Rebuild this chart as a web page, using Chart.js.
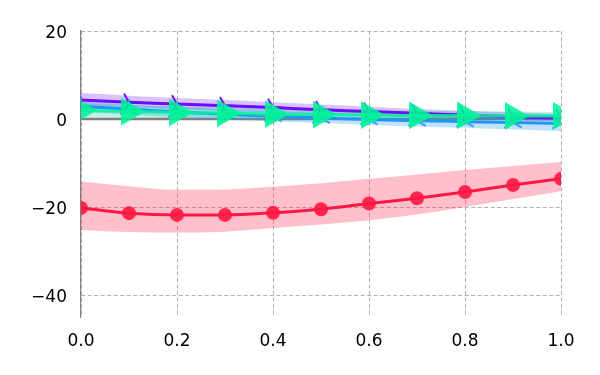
<!DOCTYPE html>
<html>
<head>
<meta charset="utf-8">
<script src="https://cdn.jsdelivr.net/npm/chart.js@4"></script>
<style>
html,body{margin:0;padding:0;background:#fff;}
#wrap{width:600px;height:375px;}
</style>
</head>
<body>
<div id="wrap"><canvas id="c" width="600" height="375"></canvas></div>
<script>
const xs = [0, 0.1, 0.2, 0.3, 0.4, 0.5, 0.6, 0.7, 0.8, 0.9, 1.0];
const xTicks = [0, 0.2, 0.4, 0.6, 0.8, 1.0];
const yTicks = [-40, -20, 0, 20];

const red      = [-20.2, -21.4, -21.8, -21.8, -21.3, -20.5, -19.2, -18.0, -16.6, -15.0, -13.6];
const redUp    = [-14.2, -15.3, -16.1, -16.0, -15.4, -14.6, -13.6, -12.6, -11.6, -10.7, -9.8];
const redLo    = [-25.2, -25.7, -25.8, -25.6, -24.8, -24.0, -23.0, -21.7, -20.0, -18.2, -16.4];

const purple   = [4.3, 3.8, 3.4, 3.0, 2.6, 2.1, 1.7, 1.3, 0.9, 0.5, 0.2];
const purpleUp = [5.9, 5.3, 4.8, 4.3, 3.8, 3.3, 2.8, 2.3, 1.9, 1.5, 1.2];
const purpleLo = [3.2, 2.7, 2.3, 1.9, 1.5, 1.1, 0.7, 0.4, 0.1, -0.3, -0.6];

const blue     = [2.9, 2.2, 1.6, 1.1, 0.6, 0.2, -0.1, -0.4, -0.6, -0.8, -1.0];
const blueUp   = [4.0, 3.3, 2.7, 2.2, 1.8, 1.4, 1.1, 0.9, 0.7, 0.6, 0.5];
const blueLo   = [1.6, 1.0, 0.4, -0.1, -0.5, -0.9, -1.3, -1.7, -2.0, -2.4, -2.7];

const green    = [2.0, 1.7, 1.5, 1.3, 1.1, 1.0, 0.9, 0.8, 0.8, 0.7, 0.7];
const greenUp  = [3.6, 3.2, 2.9, 2.6, 2.4, 2.2, 2.0, 1.9, 1.8, 1.7, 1.6];
const greenLo  = [0.3, 0.3, 0.2, 0.1, 0.0, -0.1, -0.1, -0.2, -0.2, -0.2, -0.2];

const zeroLine = [0, 0];

function pts(arr) { return arr.map((v, i) => ({x: xs[i], y: v})); }

function triCanvas(color, anglesDeg, len, lw) {
  const size = Math.ceil(2 * len + 2 * lw + 2);
  const cv = document.createElement('canvas');
  cv.width = size; cv.height = size;
  const g = cv.getContext('2d');
  g.strokeStyle = color; g.lineWidth = lw; g.lineCap = 'butt';
  const c = size / 2;
  anglesDeg.forEach(a => {
    const r = a * Math.PI / 180;
    g.beginPath();
    g.moveTo(c, c);
    g.lineTo(c + Math.cos(r) * len, c - Math.sin(r) * len);
    g.stroke();
  });
  return cv;
}

const PURPLE = '#6a0dff';
const BLUE = '#2196f3';
const GREEN = 'rgba(0,245,150,0.88)';
const RED = '#ff1744';

const purpleMarker = triCanvas(PURPLE, [0, 120, 240], 10, 2);
const blueMarker = triCanvas(BLUE, [90, 210, 330], 10, 2);

function band(arr, color, fillRef, order) {
  return {
    data: pts(arr), borderWidth: 0, pointRadius: 0, borderColor: 'rgba(0,0,0,0)',
    backgroundColor: color, fill: fillRef, order: order,
    cubicInterpolationMode: 'monotone'
  };
}

const datasets = [
  band(redLo, 'rgba(0,0,0,0)', false, 20),                       // 0
  band(redUp, 'rgba(255,23,68,0.27)', '-1', 19),                 // 1
  { data: pts(red), borderColor: RED, borderWidth: 3, backgroundColor: RED,
    pointRadius: 7, pointBorderWidth: 0, pointBackgroundColor: 'rgba(255,23,68,0.9)',
    fill: false, order: 18, cubicInterpolationMode: 'monotone' }, // 2
  { data: [{x: 0, y: zeroLine[0]}, {x: 1, y: zeroLine[1]}], borderColor: '#808080',
    borderWidth: 2.5, pointRadius: 0, fill: false, order: 17 },   // 3
  band(purpleLo, 'rgba(0,0,0,0)', false, 16),                    // 4
  band(purpleUp, 'rgba(106,13,255,0.25)', '-1', 15),             // 5
  band(blueLo, 'rgba(0,0,0,0)', false, 14),                      // 6
  band(blueUp, 'rgba(33,150,243,0.28)', '-1', 13),               // 7
  band(greenLo, 'rgba(0,0,0,0)', false, 12),                     // 8
  band(greenUp, 'rgba(0,200,150,0.25)', '-1', 11),               // 9
  { data: pts(purple), borderColor: PURPLE, borderWidth: 3, pointStyle: purpleMarker,
    pointRadius: 10, fill: false, order: 10, cubicInterpolationMode: 'monotone' }, // 10
  { data: pts(blue), borderColor: BLUE, borderWidth: 3, pointStyle: blueMarker,
    pointRadius: 10, fill: false, order: 9, cubicInterpolationMode: 'monotone' },  // 11
  { data: pts(green), borderColor: 'rgba(0,245,150,0.85)', borderWidth: 3,
    pointStyle: 'triangle', pointRotation: 90, pointRadius: 16, pointBorderWidth: 0,
    pointBackgroundColor: GREEN, fill: false, order: 8, cubicInterpolationMode: 'monotone' } // 12
];

const tickFont = { family: 'DejaVu Sans', size: 17 };

new Chart(document.getElementById('c'), {
  type: 'line',
  data: { datasets },
  options: {
    responsive: false, animation: false,
    devicePixelRatio: 1,
    layout: { padding: { left: 0, top: 31, right: 39, bottom: 0 } },
    plugins: { legend: { display: false }, tooltip: { enabled: false } },
    elements: { line: { borderCapStyle: 'butt' } },
    scales: {
      x: {
        type: 'linear', min: 0, max: 1,
        afterBuildTicks: s => { s.ticks = xTicks.map(v => ({value: v})); },
        afterFit: s => { s.height = 58; },
        ticks: { font: tickFont, color: '#000', padding: 14,
                 callback: v => v.toFixed(1), maxRotation: 0, autoSkip: false },
        grid: { color: '#b0b0b0', lineWidth: 1, drawTicks: false },
        border: { display: false, dash: [4, 2.5] }
      },
      y: {
        type: 'linear', min: -45, max: 20,
        afterBuildTicks: s => { s.ticks = yTicks.map(v => ({value: v})); },
        afterFit: s => { s.width = 81; },
        ticks: { font: tickFont, color: '#000', padding: 14, labelOffset: 2.5,
                 callback: v => (v < 0 ? '\u2212' + Math.abs(v) : String(v)) },
        grid: { color: '#b0b0b0', lineWidth: 1, drawTicks: false },
        border: { display: true, color: '#808080', width: 1.2, dash: [4, 2.5] }
      }
    }
  }
});
</script>
</body>
</html>
